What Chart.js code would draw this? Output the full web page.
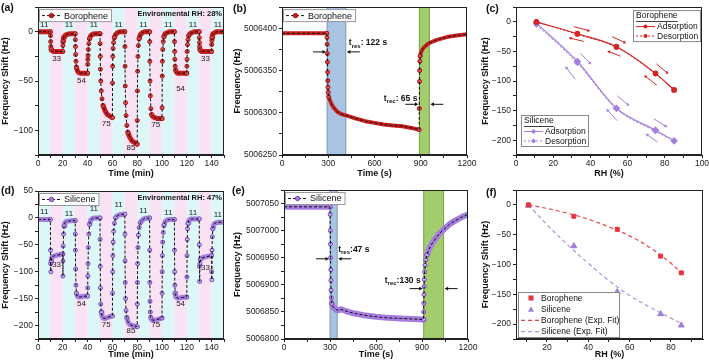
<!DOCTYPE html>
<html>
<head>
<meta charset="utf-8">
<title>Borophene vs silicene humidity response</title>
<script src="https://cdn.jsdelivr.net/npm/chart.js@4.4.1/dist/chart.umd.min.js"></script>
<style>
  html, body { margin: 0; padding: 0; background: #fff; }
  body { position: relative; width: 709px; height: 361px; overflow: hidden; font-family: "Liberation Sans", Arial, sans-serif; }
  canvas { position: absolute; }
  .tag { position: absolute; font-weight: bold; font-size: 10.5px; color: #111; line-height: 12px; }
</style>
</head>
<body>
<canvas id="chartA" width="236" height="180" style="left:0;top:0;width:236px;height:180px"></canvas>
<canvas id="chartB" width="254" height="180" style="left:232px;top:0;width:254px;height:180px"></canvas>
<canvas id="chartC" width="237" height="180" style="left:480px;top:0;width:237px;height:180px"></canvas>
<canvas id="chartD" width="236" height="181" style="left:0;top:180px;width:236px;height:181px"></canvas>
<canvas id="chartE" width="254" height="181" style="left:232px;top:180px;width:254px;height:181px"></canvas>
<canvas id="chartF" width="237" height="181" style="left:480px;top:180px;width:237px;height:181px"></canvas>
<div class="tag" style="left:1px;top:1px">(a)</div>
<div class="tag" style="left:233px;top:2px">(b)</div>
<div class="tag" style="left:486px;top:2px">(c)</div>
<div class="tag" style="left:1px;top:184px">(d)</div>
<div class="tag" style="left:232px;top:184px">(e)</div>
<div class="tag" style="left:486px;top:186px">(f)</div>
<script>
// ---------- data ----------
// cycling test: one RH step every 10 min
var stepStarts = [0, 10, 20, 30, 40, 50, 60, 70, 80, 90, 100, 110, 120, 130, 140];
var stepRH = [11, 33, 11, 54, 11, 75, 11, 85, 11, 75, 11, 54, 11, 33, 11];
// sample times inside each step (min after the switch)
var stepOffsets = [0, 0.1, 0.2, 0.35, 0.6, 1, 1.6, 2.5, 4, 6, 9.9];

// frequency shift (Hz) read for each step, borophene (a)
var boroSteps = [
  [0, 0, 0, 0, 0, 0, 0, 0, 0, 0, 0],
  [0, -4, -10, -15, -18, -19, -19.5, -20, -20, -20, -20],
  [-20, -14, -10, -8, -6.5, -5, -4, -3.2, -2.5, -2, -2],
  [-2, -8, -15, -23, -30, -36, -39, -41, -42, -42, -42],
  [-42, -33, -28, -24, -18, -12, -7, -4, -2.5, -2, -2],
  [-2, -12, -25, -38, -50, -60, -68, -75, -80, -84, -87],
  [-87, -52, -35, -25, -17, -11, -6, -3, -1, 0, 0],
  [0, -15, -35, -55, -72, -85, -95, -102, -107, -111, -114],
  [-114, -90, -60, -40, -25, -14, -7, -3, -1, 0, 0],
  [0, -10, -30, -50, -65, -78, -84, -86, -87, -88, -88],
  [-88, -77, -45, -30, -18, -10, -5, -2, -1, 0, 0],
  [0, -10, -20, -28, -35, -39, -41, -42, -42, -42, -42],
  [-42, -35, -28, -20, -13, -8, -4, -2, -1, 0, 0],
  [0, -6, -11, -15, -18, -19, -20, -20, -20, -20, -20],
  [-20, -13, -9, -6, -4, -2.5, -1.5, -1, 0, 0, 0]
];
// frequency shift (Hz) read for each step, silicene (d)
var siliSteps = [
  [-3, -3, -3, -3, -3, -3, -3, -3, -3, -3, -3],
  [-3, -60, -85, -100, -80, -74, -72, -71, -70, -69, -67],
  [-67, -108, -80, -52, -30, -15, -9, -7, -6, -5.5, -5],
  [-5, -30, -60, -95, -125, -140, -145, -147, -147, -146, -145],
  [-145, -130, -108, -85, -55, -30, -12, -4, -1, 0, 0],
  [0, -40, -90, -130, -160, -175, -182, -186, -187, -185, -182],
  [-182, -140, -100, -70, -45, -25, -10, 0, 4, 6, 7],
  [7, -30, -80, -120, -150, -172, -185, -193, -198, -200, -202],
  [-202, -160, -120, -85, -55, -32, -18, -9, -4, -1, 0],
  [0, -60, -120, -155, -175, -185, -189, -190, -190, -189, -186],
  [-186, -140, -100, -70, -45, -27, -14, -7, -4, -3, -3],
  [-3, -60, -100, -125, -140, -146, -148, -149, -149, -148, -147],
  [-147, -110, -70, -40, -20, -10, -5, -3, -2, -2, -2],
  [-2, -50, -90, -118, -85, -77, -75, -74, -73, -72, -70],
  [-70, -100, -115, -60, -35, -20, -13, -10, -9, -8, -8]
];
// where the RH labels sit (Hz)
var boroLabelY = [7, -27, 7, -50, 7, -93, 7, -118, 7, -94, 7, -58, 7, -27, 7];
var siliLabelY = [12, -88, 7, -160, 17, -198, 25, -210, 14, -199, 10, -160, 10, -92, 5];

// single response / recovery cycle (b)
var timeB = [0, 60, 120, 180, 240, 291, 292, 293, 294, 295, 296, 297, 298, 300, 303, 308, 315, 325, 340, 360, 390, 430, 480, 540, 600, 660, 720, 780, 840, 890,
  891, 892, 893, 894, 896, 899, 905, 915, 930, 950, 975, 1000, 1040, 1080, 1120, 1160, 1200];
var freqB = [5006394, 5006394, 5006394, 5006394, 5006394, 5006394, 5006389, 5006381, 5006370, 5006360, 5006348, 5006338, 5006330,
  5006324, 5006319, 5006316, 5006313, 5006309, 5006305, 5006301, 5006298, 5006296, 5006293, 5006290, 5006288, 5006286, 5006285, 5006284, 5006282, 5006280,
  5006305, 5006337, 5006350, 5006361, 5006367, 5006370, 5006373, 5006376, 5006379, 5006382, 5006384, 5006386, 5006388, 5006390, 5006391, 5006392, 5006393];
var boroSwitch = [292, 891];
var boroRespTimes = [122, 65];

// single response / recovery cycle (e)
var timeE = [0, 60, 120, 180, 240, 300, 301, 302, 303, 304, 305, 306, 307, 309, 312, 318, 328, 340, 355, 370, 390, 420, 460, 520, 600, 680, 760, 840, 910,
  911, 912, 913, 914, 915, 917, 920, 925, 932, 942, 955, 970, 990, 1015, 1045, 1080, 1120, 1160, 1200];
var freqE = [5007044, 5007044, 5007044, 5007044, 5007044, 5007044,
  5007030, 5007000, 5006975, 5006950, 5006928, 5006908, 5006890, 5006876, 5006866, 5006860, 5006857, 5006854, 5006853, 5006855, 5006853, 5006850,
  5006847, 5006844, 5006841, 5006839, 5006838, 5006837, 5006836,
  5006850, 5006866, 5006882, 5006897, 5006910, 5006924, 5006936, 5006946, 5006955, 5006963, 5006971, 5006978, 5006986, 5006995, 5007003, 5007012,
  5007019, 5007025, 5007030];
var siliSwitch = [300, 911];
var siliRespTimes = [47, 130];

// hysteresis (c) and calibration (f)
var rhLevels = [11, 33, 54, 75, 85];
var boroAds = [0, -20, -42, -87, -115];
var boroDes = [0, -21, -43, -88, -115];
var siliAds = [-2, -67, -146, -183, -201];
var siliDes = [-5, -70, -147, -185, -201];
var boroCal = [0, -19, -41, -86, -114];
var siliCal = [-1, -69, -146, -183, -202];
var fitRH = [11, 20, 30, 40, 50, 60, 70, 80, 85];
var boroFit = [0, -6, -14, -24, -37, -52, -72, -98, -114];
var siliFit = [0, -33, -67, -98, -127, -152, -172, -190, -199];
// direction arrows in (c): [rh1, shift1, rh2, shift2]
var boroArrows = [[31, -8, 40, -15.5], [36.4, -33, 28.3, -26.7], [51.7, -25, 59.3, -36], [56.2, -58, 49, -49], [75.5, -71, 82, -88], [75.7, -107, 68.8, -90]];
var siliArrows = [[34.6, -53, 40.5, -72], [31.9, -97, 26.5, -75], [54.4, -125, 61, -142], [54.4, -167, 48.5, -147], [74.2, -164, 81.4, -178], [76, -203, 69.7, -189]];

// ticks
var timeMinTicks = [0, 10, 20, 30, 40, 50, 60, 70, 80, 90, 100, 110, 120, 130, 140, 150];
var timeMinLabels = [0, 20, 40, 60, 80, 100, 120, 140];
var timeSecTicks = [0, 150, 300, 450, 600, 750, 900, 1050, 1200];
var timeSecLabels = [0, 300, 600, 900, 1200];
var rhTicksC = [0, 10, 20, 30, 40, 50, 60, 70, 80, 90, 100];
var rhLabelsC = [0, 20, 40, 60, 80, 100];
var rhTicksF = [10, 20, 30, 40, 50, 60, 70, 80, 90];
var rhLabelsF = [20, 40, 60, 80];
var shiftTicksA = [-125, -100, -75, -50, -25, 0, 25];
var shiftLabelsA = [-100, -50, 0];
var shiftTicksD = [-225, -200, -175, -150, -125, -100, -75, -50, -25, 0, 25, 50];
var shiftLabelsD = [-200, -150, -100, -50, 0, 50];
var shiftTicksCF = [-225, -200, -175, -150, -125, -100, -75, -50, -25, 0, 25];
var shiftLabelsCF = [-200, -150, -100, -50, 0];
var freqTicksB = [5006250, 5006275, 5006300, 5006325, 5006350, 5006375, 5006400, 5006425];
var freqLabelsB = [5006250, 5006300, 5006350, 5006400];
var freqTicksE = [5006800, 5006825, 5006850, 5006875, 5006900, 5006925, 5006950, 5006975, 5007000, 5007025, 5007050, 5007075];
var freqLabelsE = [5006800, 5006850, 5006900, 5006950, 5007000, 5007050];

// ---------- helpers ----------
var FONT = '"Liberation Sans", Arial, sans-serif';
Chart.defaults.font.family = FONT;
Chart.defaults.color = '#222';

var RED = '#d42525', PURPLE = '#a47fdf';
var boroStyle = { band: '#c81d1d', fill: '#e25a5a', edge: '#a80e0e', width: 5 };
var siliStyle = { band: '#a47ddf', fill: '#cdb6f2', edge: '#7549bd', width: 5 };

function pts(xs, ys) { return xs.map(function (x, i) { return { x: x, y: ys[i] }; }); }
function fmt(v) { return v < 0 ? '\u2212' + Math.abs(v) : String(v); }

var cycleTime = [];
stepStarts.forEach(function (s) { stepOffsets.forEach(function (o) { cycleTime.push(s + o); }); });
var boroCycle = pts(cycleTime, [].concat.apply([], boroSteps));
var siliCycle = pts(cycleTime, [].concat.apply([], siliSteps));

function axis(o) {
  return {
    type: 'linear', min: o.min, max: o.max,
    afterBuildTicks: function (s) { s.ticks = o.ticks.map(function (v) { return { value: v }; }); },
    afterFit: function (s) { if (o.w) s.width = o.w; if (o.h) s.height = o.h; },
    border: { color: '#222', width: 1 },
    grid: { drawOnChartArea: false, tickLength: 3, color: '#222' },
    ticks: {
      autoSkip: false, maxRotation: 0, padding: o.h ? 1 : 2, color: '#222', font: { size: 8.5 },
      callback: function (v) { return o.labels.indexOf(v) >= 0 ? fmt(v) : ''; }
    },
    title: { display: true, text: o.title, color: '#111', font: { size: 9, weight: 'bold' }, padding: { top: 0, bottom: 1 } }
  };
}

function steepPx(c, a, b) {
  var xs = c.scales.x, ys = c.scales.y;
  var dx = Math.abs(xs.getPixelForValue(b.x) - xs.getPixelForValue(a.x));
  var dy = Math.abs(ys.getPixelForValue(b.y) - ys.getPixelForValue(a.y));
  return dy > 2.5 * dx + 2;
}

// hide the thick band where the signal jumps, so single markers show there
function hideSteep(ctx) {
  var dx = Math.abs(ctx.p1.x - ctx.p0.x), dy = Math.abs(ctx.p1.y - ctx.p0.y);
  return dy > 2.5 * dx + 2 ? 'rgba(0,0,0,0)' : undefined;
}

// markers only where the points stand apart (the jumps)
function jumpRadius(ctx) {
  if (ctx.type !== 'data') return 2;
  var d = ctx.dataset.data, i = ctx.dataIndex;
  var prev = i > 0 && steepPx(ctx.chart, d[i - 1], d[i]);
  var next = i < d.length - 1 && steepPx(ctx.chart, d[i], d[i + 1]);
  return prev || next ? 2 : 0;
}

function seriesSets(points, st) {
  return [
    { data: points, showLine: true, borderColor: '#111', borderWidth: 1, borderDash: [3, 2], pointRadius: 0, order: 0 },
    { data: points, showLine: true, borderColor: st.band, borderWidth: st.width, borderJoinStyle: 'round', borderCapStyle: 'round',
      pointRadius: jumpRadius, pointBackgroundColor: st.fill, pointBorderColor: st.edge, pointBorderWidth: 1, order: 1,
      segment: { borderColor: hideSteep } }
  ];
}

var frame = {
  id: 'frame',
  afterDatasetsDraw: function (c) {
    var a = c.chartArea, ctx = c.ctx;
    ctx.save();
    ctx.strokeStyle = '#222'; ctx.lineWidth = 1;
    ctx.strokeRect(Math.round(a.left) + 0.5, Math.round(a.top) + 0.5, Math.round(a.right - a.left) - 1, Math.round(a.bottom - a.top) - 1);
    ctx.restore();
  }
};

function makeChart(id, pad, scales, datasets, extra) {
  return new Chart(document.getElementById(id), {
    type: 'scatter',
    data: { datasets: datasets },
    options: {
      responsive: false, animation: false,
      layout: { padding: pad },
      scales: scales,
      plugins: { legend: { display: false }, tooltip: { enabled: false } }
    },
    plugins: [frame].concat(extra || [])
  });
}

function txt(ctx, s, x, y, font, color, align) {
  ctx.save();
  ctx.font = font; ctx.fillStyle = color || '#111';
  ctx.textAlign = align || 'center'; ctx.textBaseline = 'middle';
  ctx.fillText(s, x, y);
  ctx.restore();
}

function arrow(ctx, x1, y1, x2, y2, color, head) {
  var a = Math.atan2(y2 - y1, x2 - x1);
  ctx.save();
  ctx.strokeStyle = color; ctx.fillStyle = color; ctx.lineWidth = 1;
  ctx.beginPath(); ctx.moveTo(x1, y1); ctx.lineTo(x2 - Math.cos(a) * head * 0.6, y2 - Math.sin(a) * head * 0.6); ctx.stroke();
  ctx.beginPath(); ctx.moveTo(x2, y2);
  ctx.lineTo(x2 - head * Math.cos(a - 0.5), y2 - head * Math.sin(a - 0.5));
  ctx.lineTo(x2 - head * Math.cos(a + 0.5), y2 - head * Math.sin(a + 0.5));
  ctx.closePath(); ctx.fill();
  ctx.restore();
}

function tLabel(ctx, x, y, sub, rest, align) {
  ctx.save();
  ctx.fillStyle = '#111'; ctx.textBaseline = 'middle'; ctx.textAlign = 'left';
  var big = 'bold 8.5px ' + FONT, small = 'bold 6px ' + FONT;
  ctx.font = big; var w1 = ctx.measureText('t').width, w3 = ctx.measureText(rest).width;
  ctx.font = small; var w2 = ctx.measureText(sub).width;
  var x0 = align === 'right' ? x - (w1 + w2 + w3) : x;
  ctx.font = big; ctx.fillText('t', x0, y);
  ctx.font = small; ctx.fillText(sub, x0 + w1, y + 3);
  ctx.font = big; ctx.fillText(rest, x0 + w1 + w2, y);
  ctx.restore();
}

function seriesLegend(ctx, x, y, label, st) {
  ctx.save();
  ctx.font = '9px ' + FONT;
  var w = ctx.measureText(label).width + 28, h = 12;
  ctx.fillStyle = '#fff'; ctx.fillRect(x, y, w, h);
  ctx.strokeStyle = '#999'; ctx.lineWidth = 1; ctx.strokeRect(x + 0.5, y + 0.5, w, h);
  ctx.strokeStyle = '#111'; ctx.setLineDash([3, 2]);
  ctx.beginPath(); ctx.moveTo(x + 3, y + h / 2 + 0.5); ctx.lineTo(x + 22, y + h / 2 + 0.5); ctx.stroke();
  ctx.setLineDash([]);
  ctx.fillStyle = st.band; ctx.strokeStyle = st.edge;
  ctx.beginPath(); ctx.arc(x + 12.5, y + h / 2 + 0.5, 2.2, 0, Math.PI * 2); ctx.fill(); ctx.stroke();
  ctx.fillStyle = '#111'; ctx.textBaseline = 'middle'; ctx.textAlign = 'left';
  ctx.fillText(label, x + 25, y + h / 2 + 1);
  ctx.restore();
}

function stepDeco(labelY, name, st, envText) {
  return {
    id: 'steps',
    beforeDatasetsDraw: function (c) {
      var ctx = c.ctx, xs = c.scales.x, ca = c.chartArea;
      ctx.save();
      stepStarts.forEach(function (s, i) {
        var x1 = xs.getPixelForValue(s), x2 = xs.getPixelForValue(s + 10);
        ctx.fillStyle = stepRH[i] === 11 ? '#ddf7f8' : '#f9e2f4';
        ctx.fillRect(x1, ca.top, x2 - x1, ca.bottom - ca.top);
      });
      ctx.restore();
    },
    afterDatasetsDraw: function (c) {
      var ctx = c.ctx, xs = c.scales.x, ys = c.scales.y, ca = c.chartArea;
      stepStarts.forEach(function (s, i) {
        txt(ctx, String(stepRH[i]), xs.getPixelForValue(s + 5), ys.getPixelForValue(labelY[i]), '8px ' + FONT, '#222');
      });
      seriesLegend(ctx, ca.left + 1, ca.top + 2, name, st);
      txt(ctx, envText, ca.right - 2, ca.top + 6.5, 'bold 7.5px ' + FONT, '#111', 'right');
    }
  };
}

function band(c, t1, t2, fill, edge) {
  var ctx = c.ctx, xs = c.scales.x, ca = c.chartArea;
  var x1 = xs.getPixelForValue(t1), x2 = xs.getPixelForValue(t2);
  ctx.save();
  ctx.fillStyle = fill; ctx.fillRect(x1, ca.top, x2 - x1, ca.bottom - ca.top);
  ctx.strokeStyle = edge; ctx.lineWidth = 0.8;
  ctx.beginPath();
  ctx.moveTo(x1, ca.top); ctx.lineTo(x1, ca.bottom);
  ctx.moveTo(x2, ca.top); ctx.lineTo(x2, ca.bottom);
  ctx.stroke();
  ctx.restore();
}

function responseDeco(sw, resp, name, st, arrowF, gap) {
  return {
    id: 'response',
    beforeDatasetsDraw: function (c) {
      band(c, sw[0], sw[0] + resp[0], '#a9c3e3', '#6a8ab0');
      band(c, sw[1], sw[1] + resp[1], '#a3cd6c', '#5f8f30');
    },
    afterDatasetsDraw: function (c) {
      var ctx = c.ctx, xs = c.scales.x, ys = c.scales.y, ca = c.chartArea;
      var a1 = xs.getPixelForValue(sw[0]), a2 = xs.getPixelForValue(sw[0] + resp[0]);
      var b1 = xs.getPixelForValue(sw[1]), b2 = xs.getPixelForValue(sw[1] + resp[1]);
      var yR = ys.getPixelForValue(arrowF[0]), yC = ys.getPixelForValue(arrowF[1]);
      arrow(ctx, a1 - 14, yR, a1 - 1, yR, '#111', 4);
      arrow(ctx, a2 + 14, yR, a2 + 1, yR, '#111', 4);
      arrow(ctx, b1 - 14, yC, b1 - 1, yC, '#111', 4);
      arrow(ctx, b2 + 14, yC, b2 + 1, yC, '#111', 4);
      tLabel(ctx, a2 + gap[0], yR - gap[1], 'res', ':' + gap[2] + resp[0] + ' s', 'left');
      tLabel(ctx, b1 - gap[3], yC - gap[4], 'rec', ':' + gap[2] + resp[1] + ' s', 'right');
      seriesLegend(ctx, ca.left + 1, ca.top + 2, name, st);
    }
  };
}

function groupLegend(ctx, x, y, title, color, shape) {
  var w = 67, h = 31;
  ctx.save();
  ctx.fillStyle = '#fff'; ctx.fillRect(x, y, w, h);
  ctx.strokeStyle = '#888'; ctx.lineWidth = 1; ctx.strokeRect(x + 0.5, y + 0.5, w, h);
  ctx.font = '8.5px ' + FONT; ctx.fillStyle = '#111'; ctx.textBaseline = 'middle'; ctx.textAlign = 'left';
  ctx.fillText(title, x + 3, y + 6);
  ctx.fillRect(x + 3, y + 11, ctx.measureText(title).width, 0.8);
  ['Adsorption', 'Desorption'].forEach(function (lab, i) {
    var ly = y + 16.5 + i * 9.5;
    ctx.strokeStyle = color; ctx.lineWidth = 1;
    ctx.setLineDash(i ? [2, 2] : []);
    ctx.beginPath(); ctx.moveTo(x + 3, ly); ctx.lineTo(x + 22, ly); ctx.stroke();
    ctx.setLineDash([]);
    ctx.fillStyle = color;
    ctx.beginPath();
    if (shape === 'diamond') { ctx.moveTo(x + 12.5, ly - 2.6); ctx.lineTo(x + 15.1, ly); ctx.lineTo(x + 12.5, ly + 2.6); ctx.lineTo(x + 9.9, ly); ctx.closePath(); }
    else ctx.arc(x + 12.5, ly, 2, 0, Math.PI * 2);
    ctx.fill();
    ctx.fillStyle = '#111';
    ctx.fillText(lab, x + 24, ly + 0.5);
  });
  ctx.restore();
}

// ---------- (a) borophene cycling ----------
makeChart('chartA', { left: 0, top: 5, right: 12, bottom: 0 }, {
  x: axis({ min: 0, max: 150, ticks: timeMinTicks, labels: timeMinLabels, title: 'Time (min)', h: 25 }),
  y: axis({ min: -125, max: 25, ticks: shiftTicksA, labels: shiftLabelsA, title: 'Frequency Shift (Hz)', w: 38 })
}, seriesSets(boroCycle, boroStyle), [stepDeco(boroLabelY, 'Borophene', boroStyle, 'Environmental RH: 28%')]);

// ---------- (b) borophene response ----------
makeChart('chartB', { left: 0, top: 5, right: 19, bottom: 0 }, {
  x: axis({ min: 0, max: 1200, ticks: timeSecTicks, labels: timeSecLabels, title: 'Time (s)', h: 25 }),
  y: axis({ min: 5006250, max: 5006425, ticks: freqTicksB, labels: freqLabelsB, title: 'Frequency (Hz)', w: 50 })
}, seriesSets(pts(timeB, freqB), { band: '#cc2020', fill: '#e25a5a', edge: '#a80e0e', width: 4 }),
  [responseDeco(boroSwitch, boroRespTimes, 'Borophene', boroStyle, [5006372, 5006310], [3, 9, ' ', 2, 6])]);

// ---------- (c) hysteresis ----------
makeChart('chartC', { left: 0, top: 5, right: 15, bottom: 0 }, {
  x: axis({ min: 0, max: 100, ticks: rhTicksC, labels: rhLabelsC, title: 'RH (%)', h: 25 }),
  y: axis({ min: -225, max: 25, ticks: shiftTicksCF, labels: shiftLabelsCF, title: 'Frequency Shift (Hz)', w: 36 })
}, [
  { data: pts(rhLevels, boroAds), showLine: true, borderColor: RED, borderWidth: 1.2, cubicInterpolationMode: 'monotone', pointRadius: 2.3, pointBackgroundColor: RED, pointBorderColor: RED },
  { data: pts(rhLevels, boroDes), showLine: true, borderColor: RED, borderWidth: 1, borderDash: [2, 2], cubicInterpolationMode: 'monotone', pointRadius: 2, pointBackgroundColor: RED, pointBorderColor: RED },
  { data: pts(rhLevels, siliAds), showLine: true, borderColor: PURPLE, borderWidth: 1.2, cubicInterpolationMode: 'monotone', pointStyle: 'rectRot', pointRadius: 3, pointBackgroundColor: PURPLE, pointBorderColor: PURPLE },
  { data: pts(rhLevels, siliDes), showLine: true, borderColor: PURPLE, borderWidth: 1, borderDash: [2, 2], cubicInterpolationMode: 'monotone', pointStyle: 'rectRot', pointRadius: 2.5, pointBackgroundColor: PURPLE, pointBorderColor: PURPLE }
], [{
  id: 'hyst',
  afterDatasetsDraw: function (c) {
    var ctx = c.ctx, xs = c.scales.x, ys = c.scales.y, ca = c.chartArea;
    function draw(list, color) {
      list.forEach(function (a) {
        arrow(ctx, xs.getPixelForValue(a[0]), ys.getPixelForValue(a[1]), xs.getPixelForValue(a[2]), ys.getPixelForValue(a[3]), color, 3.5);
      });
    }
    draw(boroArrows, RED);
    draw(siliArrows, PURPLE);
    groupLegend(ctx, ca.right - 69, ca.top + 3, 'Borophene', RED, 'circle');
    groupLegend(ctx, ca.left + 5, ca.bottom - 40, 'Silicene', PURPLE, 'diamond');
  }
}]);

// ---------- (d) silicene cycling ----------
makeChart('chartD', { left: 0, top: 11, right: 12, bottom: 0 }, {
  x: axis({ min: 0, max: 150, ticks: timeMinTicks, labels: timeMinLabels, title: 'Time (min)', h: 22 }),
  y: axis({ min: -225, max: 50, ticks: shiftTicksD, labels: shiftLabelsD, title: 'Frequency Shift (Hz)', w: 38 })
}, seriesSets(siliCycle, siliStyle), [stepDeco(siliLabelY, 'Silicene', siliStyle, 'Environmental RH: 47%')]);

// ---------- (e) silicene response ----------
makeChart('chartE', { left: 0, top: 10, right: 18, bottom: 0 }, {
  x: axis({ min: 0, max: 1200, ticks: timeSecTicks, labels: timeSecLabels, title: 'Time (s)', h: 22 }),
  y: axis({ min: 5006800, max: 5007075, ticks: freqTicksE, labels: freqLabelsE, title: 'Frequency (Hz)', w: 52 })
}, seriesSets(pts(timeE, freqE), { band: '#a47ddf', fill: '#cdb6f2', edge: '#7549bd', width: 6 }),
  [responseDeco(siliSwitch, siliRespTimes, 'Silicene', siliStyle, [5006948, 5006893], [1, 9, '', 3, 8])]);

// ---------- (f) calibration with exponential fits ----------
makeChart('chartF', { left: 0, top: 10, right: 14, bottom: 0 }, {
  x: axis({ min: 5, max: 95.5, ticks: rhTicksF, labels: rhLabelsF, title: 'RH (%)', h: 22 }),
  y: axis({ min: -225, max: 25, ticks: shiftTicksCF, labels: shiftLabelsCF, title: 'Frequency Shift (Hz)', w: 36 })
}, [
  { data: pts(rhLevels, boroCal), pointStyle: 'rect', pointRadius: 2.8, pointBackgroundColor: '#e8323c', pointBorderColor: '#e8323c' },
  { data: pts(rhLevels, siliCal), pointStyle: 'triangle', pointRadius: 3.4, pointBackgroundColor: '#9d80d6', pointBorderColor: '#9d80d6' },
  { data: pts(fitRH, boroFit), showLine: true, borderColor: '#e8454a', borderWidth: 1.2, borderDash: [4, 3], tension: 0.4, pointRadius: 0 },
  { data: pts(fitRH, siliFit), showLine: true, borderColor: '#a996dc', borderWidth: 1.2, borderDash: [4, 3], tension: 0.4, pointRadius: 0 }
], [{
  id: 'calLegend',
  afterDatasetsDraw: function (c) {
    var ctx = c.ctx, ca = c.chartArea;
    var x = ca.left + 2, y = ca.bottom - 47, w = 101, h = 45;
    var rows = [['Borophene', '#e8323c', 'rect'], ['Silicene', '#9d80d6', 'tri'], ['Borophene (Exp. Fit)', '#e8454a', 'line'], ['Silicene (Exp. Fit)', '#a996dc', 'line']];
    ctx.save();
    ctx.fillStyle = '#fff'; ctx.fillRect(x, y, w, h);
    ctx.strokeStyle = '#888'; ctx.lineWidth = 1; ctx.strokeRect(x + 0.5, y + 0.5, w, h);
    ctx.font = '8.5px ' + FONT; ctx.textBaseline = 'middle'; ctx.textAlign = 'left';
    rows.forEach(function (r, i) {
      var ly = y + 6 + i * 11.2;
      ctx.fillStyle = r[1]; ctx.strokeStyle = r[1];
      if (r[2] === 'rect') ctx.fillRect(x + 10.5, ly - 2.5, 5, 5);
      else if (r[2] === 'tri') { ctx.beginPath(); ctx.moveTo(x + 13, ly - 3); ctx.lineTo(x + 16, ly + 2.5); ctx.lineTo(x + 10, ly + 2.5); ctx.closePath(); ctx.fill(); }
      else { ctx.lineWidth = 1.2; ctx.setLineDash([4, 3]); ctx.beginPath(); ctx.moveTo(x + 3, ly); ctx.lineTo(x + 21, ly); ctx.stroke(); ctx.setLineDash([]); }
      ctx.fillStyle = '#111';
      ctx.fillText(r[0], x + 23, ly + 0.5);
    });
    ctx.restore();
  }
}]);
</script>
</body>
</html>
